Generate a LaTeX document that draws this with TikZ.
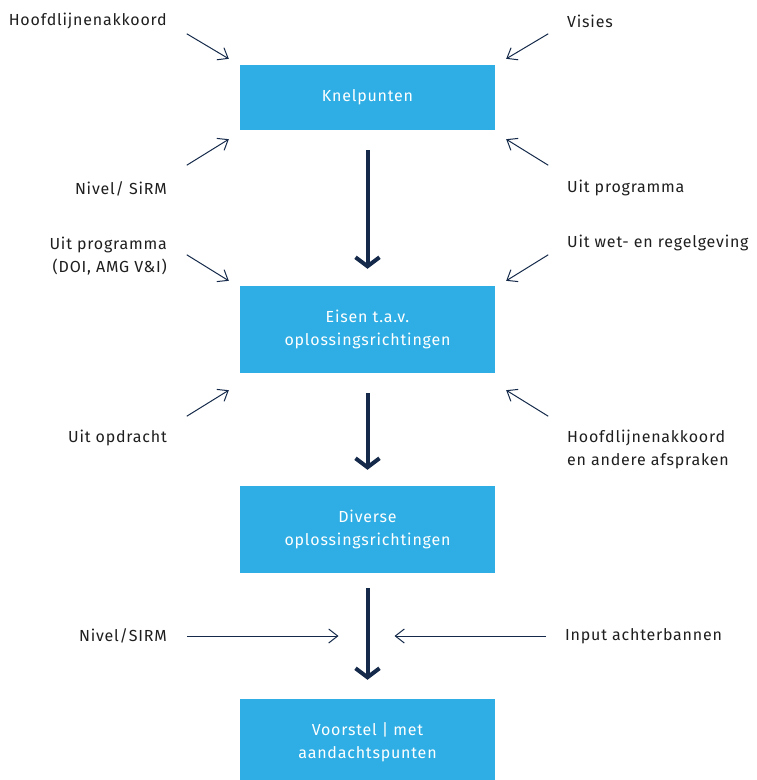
\documentclass[tikz,border=0pt]{standalone}
\usepackage{fontspec}
\setmainfont{Fira Sans}[LetterSpace=5]
\usetikzlibrary{arrows.meta,positioning}
\definecolor{BoxBlue}{HTML}{2EAEE4}
\definecolor{ArrowNavy}{HTML}{152A4A}
\definecolor{LabelInk}{HTML}{1E1E1E}
\begin{document}
\begin{tikzpicture}[x=1pt,y=-1pt,
 font=\fontsize{16}{23}\selectfont,
 stage/.style={fill=BoxBlue,text=white,align=center,inner sep=0pt,
   minimum width=255pt},
 lbl/.style={text=LabelInk,align=right,anchor=east,inner sep=0pt},
 rlbl/.style={text=LabelInk,align=left,anchor=west,inner sep=0pt},
 feed/.style={-{Straight Barb[length=9pt,width=14pt]},draw=ArrowNavy,line width=1pt},
 main/.style={-{Straight Barb[length=9pt,width=24pt]},draw=ArrowNavy,line width=4pt}
]
 \useasboundingbox (0,0) rectangle (756,780);
 % steps
 \node[stage,minimum height=65pt] (knel) at (367.5,97.5) {Knelpunten};
 \node[stage,minimum height=87pt] (eisen) at (367.5,329.5)
   {Eisen t.a.v.\\oplossingsrichtingen};
 \node[stage,minimum height=87pt] (divers) at (367.5,529.5)
   {Diverse\\oplossingsrichtingen};
 \node[stage,minimum height=87pt] (voorstel) at (367.5,742.5)
   {Voorstel | met\\aandachtspunten};
 % inputs, left
 \node[lbl] (hla) at (167,21) {Hoofdlijnenakkoord};
 \node[lbl] (nivel) at (167,189) {Nivel/ SiRM};
 \node[lbl] (prog) at (167,256) {Uit programma\\(DOI, AMG V\&I)};
 \node[lbl] (opdr) at (167,438) {Uit opdracht};
 \node[lbl] (sirm) at (167,636) {Nivel/SIRM};
 % inputs, right
 \node[rlbl] (visies) at (567,21) {Visies};
 \node[rlbl] (uitprog) at (567,188) {Uit programma};
 \node[rlbl] (wet) at (567,243) {Uit wet- en regelgeving};
 \node[rlbl] (hlaf) at (567,449) {Hoofdlijnenakkoord\\en andere afspraken};
 \node[rlbl] (input) at (565,636) {Input achterbannen};
 % main flow
 \draw[main] ([yshift=-20pt]knel.south)--([yshift=17pt]eisen.north);
 \draw[main] ([yshift=-20pt]eisen.south)--([yshift=16pt]divers.north);
 \draw[main] ([yshift=-15pt]divers.south)--([yshift=19pt]voorstel.north);
 % side inputs
 \foreach \b/\c/\sx/\sy/\ex/\ey in {
   knel/north west/-53/31/-11/6, knel/south west/-53/-35/-11/-9,
   knel/north east/53/31/11/6, knel/south east/53/-35/11/-9,
   eisen/north west/-53/31/-11/5, eisen/south west/-53/-43/-11/-17,
   eisen/north east/53/31/11/5, eisen/south east/53/-43/11/-17}
   \draw[feed] ([shift={(\sx pt,\sy pt)}]\b.\c)--([shift={(\ex pt,\ey pt)}]\b.\c);
 \coordinate (join) at (367.5,636);
 \draw[feed] ([xshift=20pt]sirm.east)--([xshift=-29pt]join);
 \draw[feed] ([xshift=-19pt]input.west)--([xshift=27pt]join);
\end{tikzpicture}
\end{document}
